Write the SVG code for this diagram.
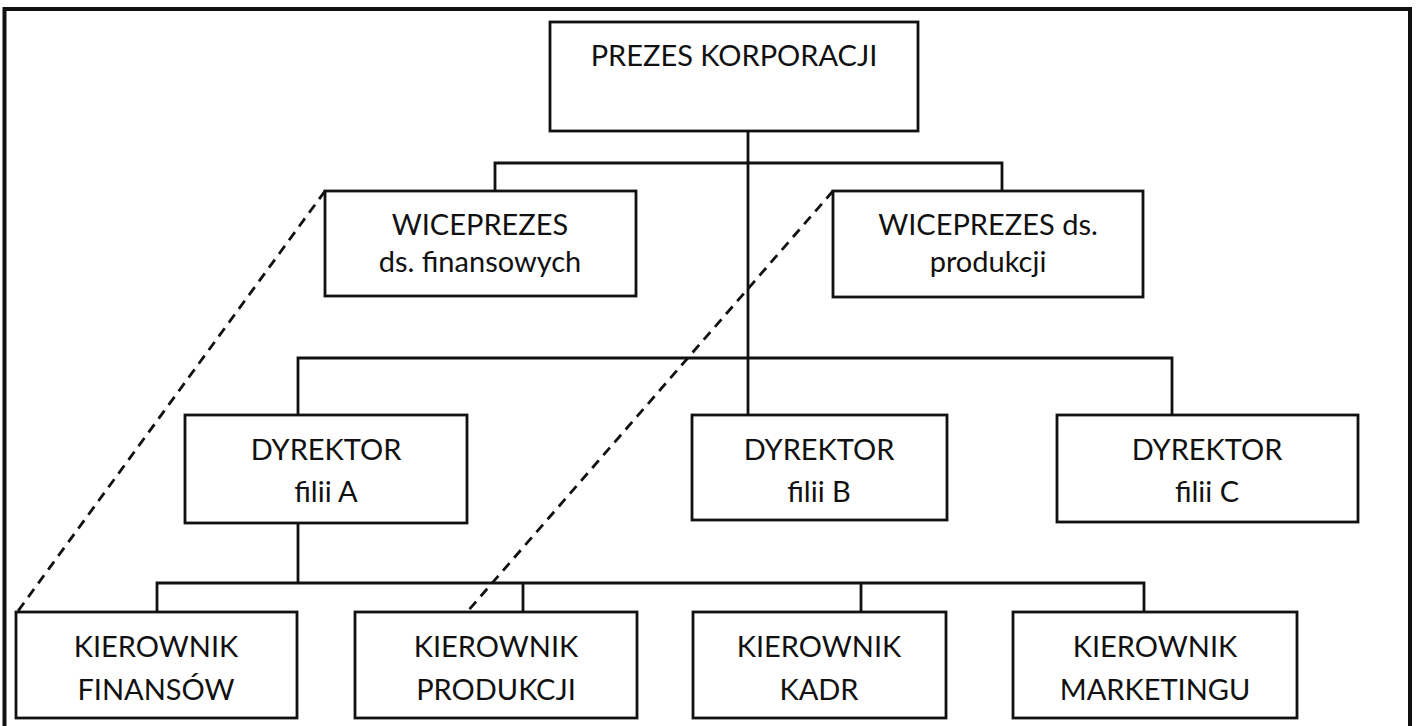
<svg xmlns="http://www.w3.org/2000/svg" width="1418" height="726" viewBox="0 0 1418 726">
<style>
.box{fill:#fff;stroke:#111;stroke-width:2.8}
.ln{fill:none;stroke:#111;stroke-width:2.8}
.dash{fill:none;stroke:#111;stroke-width:2.8;stroke-dasharray:10 7}
text{font-family:Lato,"Liberation Sans",sans-serif;font-size:29px;fill:#111;text-anchor:middle}
</style>
<rect x="0" y="0" width="1418" height="726" fill="#fff"/>
<path d="M4.5 740 V9 H1410 V740" fill="none" stroke="#111" stroke-width="4"/>
<g id="connectors">
<path class="ln" d="M748 131 V415"/>
<path class="ln" d="M495 191 V163 H1002 V191"/>
<path class="ln" d="M298 415 V358 H1172 V415"/>
<path class="ln" d="M298 523 V583"/>
<path class="ln" d="M157 612 V583 H1144 V612"/>
<path class="ln" d="M523 583 V612"/>
<path class="ln" d="M861 583 V612"/>
<path class="dash" d="M325 191 L18 611"/>
<path class="dash" d="M833 191 L467 612"/>
</g>
<g id="prezes"><rect class="box" x="550" y="22" width="368" height="109"/><text x="734" y="66">PREZES KORPORACJI</text></g>
<g id="wice-fin"><rect class="box" x="325" y="191" width="311" height="105"/><text x="480" y="235">WICEPREZES</text><text x="480" y="272">ds. finansowych</text></g>
<g id="wice-prod"><rect class="box" x="833" y="191" width="310" height="106"/><text x="988" y="235">WICEPREZES ds.</text><text x="988" y="272">produkcji</text></g>
<g id="dyr-a"><rect class="box" x="185" y="415" width="282" height="108"/><text x="326" y="460">DYREKTOR</text><text x="326" y="502">filii A</text></g>
<g id="dyr-b"><rect class="box" x="692" y="415" width="255" height="105"/><text x="819" y="460">DYREKTOR</text><text x="819" y="502">filii B</text></g>
<g id="dyr-c"><rect class="box" x="1057" y="415" width="301" height="107"/><text x="1207" y="460">DYREKTOR</text><text x="1207" y="502">filii C</text></g>
<g id="kier-fin"><rect class="box" x="16" y="612" width="281" height="106"/><text x="156" y="657">KIEROWNIK</text><text x="156" y="700">FINANSÓW</text></g>
<g id="kier-prod"><rect class="box" x="355" y="612" width="282" height="106"/><text x="496" y="657">KIEROWNIK</text><text x="496" y="700">PRODUKCJI</text></g>
<g id="kier-kadr"><rect class="box" x="693" y="612" width="253" height="106"/><text x="819" y="657">KIEROWNIK</text><text x="819" y="700">KADR</text></g>
<g id="kier-mark"><rect class="box" x="1013" y="612" width="284" height="106"/><text x="1155" y="657">KIEROWNIK</text><text x="1155" y="700">MARKETINGU</text></g>
</svg>
